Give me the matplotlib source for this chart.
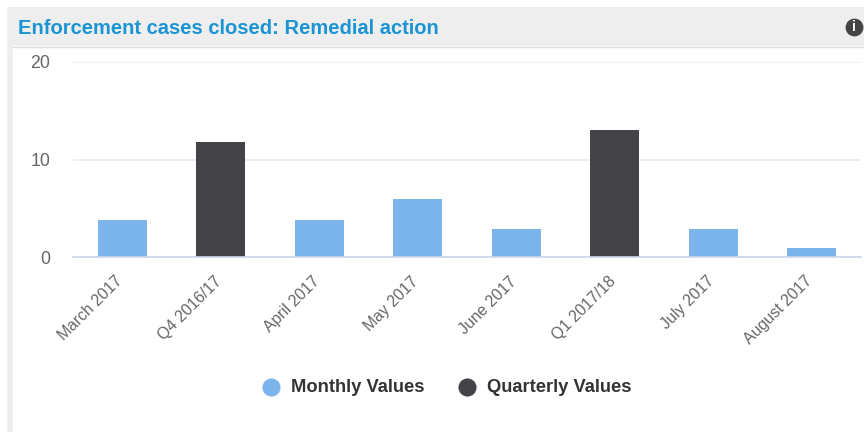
import matplotlib
matplotlib.use('Agg')
import matplotlib.pyplot as plt
from matplotlib.patches import Rectangle
from matplotlib.transforms import ScaledTranslation

plt.rcParams['font.family'] = ['Liberation Sans', 'DejaVu Sans']

# values
months = ['March 2017', 'Q4 2016/17', 'April 2017', 'May 2017', 'June 2017',
          'Q1 2017/18', 'July 2017', 'August 2017']
values = [3.8, 11.8, 3.8, 5.9, 2.9, 13, 2.9, 0.9]
is_quarter = [False, True, False, False, False, True, False, False]
y_ticks = [0, 10, 20]

MONTH_COL = '#7cb5ec'
QUARTER_COL = '#434348'
W, H = 864, 432

fig = plt.figure(figsize=(W / 100, H / 100), dpi=100)

# panel frame and grey header, in pixels from top left
bg = fig.add_axes([0, 0, 1, 1])
bg.set_xlim(0, W)
bg.set_ylim(H, 0)
bg.axis('off')
bg.add_patch(Rectangle((7, 7), W - 7, 39, color='#eeeeee', lw=0))
bg.add_patch(Rectangle((7, 46), 6, H - 46, color='#eeeeee', lw=0))
bg.plot([13, W], [46.5, 46.5], color='#dddddd', lw=1)
bg.text(18, 28, 'Enforcement cases closed: Remedial action', color='#1a94d3',
        fontsize=14.5, fontweight='bold', va='center')

# info icon
bg.scatter([854], [27], s=165, color='#444444', lw=0)
bg.text(854, 27, 'i', color='white', fontsize=10, fontweight='bold',
        ha='center', va='center')

# chart area
ax = fig.add_axes([73 / W, 1 - 257 / H, 788 / W, 195 / H])
colors = [QUARTER_COL if q else MONTH_COL for q in is_quarter]
ax.bar(range(len(months)), values, width=0.5, color=colors, zorder=3)
ax.set_xlim(-0.5, len(months) - 0.5)
ax.set_ylim(0, 20)
ax.set_yticks(y_ticks)
ax.set_xticks(range(len(months)))
ax.set_xticklabels(months, rotation=45, ha='right', rotation_mode='anchor',
                   fontsize=11.4, color='#666666')
ax.tick_params(axis='x', length=0, pad=12)
ax.tick_params(axis='y', length=0, pad=16.5, labelsize=12.8, labelcolor='#666666')
ax.grid(axis='y', color='#eeeeee', lw=1.4, zorder=0)
for name in ['top', 'right', 'left']:
    ax.spines[name].set_visible(False)
ax.spines['bottom'].set_color('#ccd6eb')
ax.spines['bottom'].set_linewidth(1.2)
ax.spines['bottom'].set_zorder(4)

# the rotated labels sit a bit left of the bar centre
shift = ScaledTranslation(-7 / 100, 0, fig.dpi_scale_trans)
for label in ax.get_xticklabels():
    label.set_transform(label.get_transform() + shift)

# legend
bg.scatter([271], [387], s=170, color=MONTH_COL, lw=0)
bg.text(291, 388, 'Monthly Values', color='#333333', fontsize=13.2,
        fontweight='bold', va='center')
bg.scatter([467], [387], s=170, color=QUARTER_COL, lw=0)
bg.text(487, 388, 'Quarterly Values', color='#333333', fontsize=13.2,
        fontweight='bold', va='center')

plt.savefig('out.png', dpi=100)
